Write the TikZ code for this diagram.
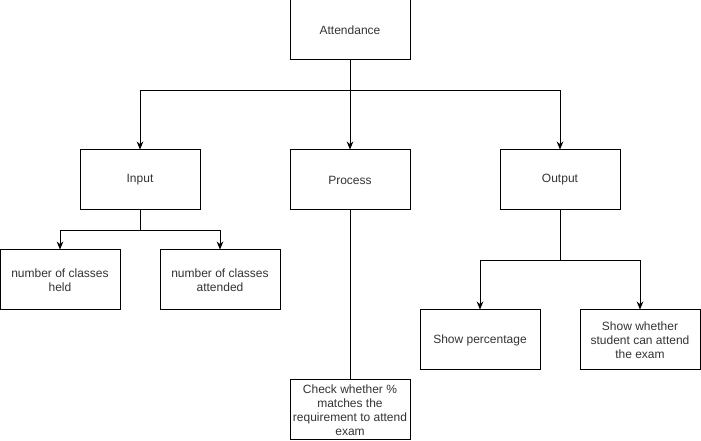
\documentclass[tikz,border=0pt]{standalone}
\usepackage{fontspec}
\setmainfont{Liberation Sans}
\usetikzlibrary{arrows.meta}

\tikzset{every picture/.style={line width=0.75pt}}
\tikzset{
  blockbox/.style={draw, minimum width=90pt, minimum height=45pt, inner sep=0.75pt, align=center, font=\fontsize{9}{10.5}\selectfont, text=black!80},
  flow/.style={-{Stealth[length=6pt,width=5pt]}}
}

\begin{document}
\begin{tikzpicture}[x=0.75pt,y=0.75pt,yscale=-1,xscale=1]
    \useasboundingbox (0,0) rectangle (701,441);

    % Top level
    \node [blockbox] (attendance) at (350,30) {Attendance};
    % Second level
    \node [blockbox] (input) at (140,180) {Input};
    \node [blockbox] (process) at (350,180) {Process};
    \node [blockbox] (output) at (560,180) {Output};
    % Input children
    \node [blockbox] (held) at (60,280) {number of classes\\held};
    \node [blockbox] (attended) at (220,280) {number of classes\\attended};
    % Output children
    \node [blockbox] (percentage) at (480,340) {Show percentage};
    \node [blockbox] (canattend) at (640,340) {Show whether\\student can attend\\the exam};
    % Process child
    \node [blockbox] (check) at (350,410) {Check whether \%\\matches the\\requirement to attend\\exam};

    %Connectors from Attendance
    \draw [flow] (attendance.south) -- ++(0,30) -| (input.north);
    \draw [flow] (attendance.south) -- (process.north);
    \draw [flow] (attendance.south) -- ++(0,30) -| (output.north);
    %Connectors from Input
    \draw [flow] (input.south) -- ++(0,20) -| (held.north);
    \draw [flow] (input.south) -- ++(0,20) -| (attended.north);
    %Connectors from Output
    \draw [flow] (output.south) -- ++(0,50) -| (percentage.north);
    \draw [flow] (output.south) -- ++(0,50) -| (canattend.north);
    %Connector from Process
    \draw (process.south) -- (check.north);

\end{tikzpicture}
\end{document}
